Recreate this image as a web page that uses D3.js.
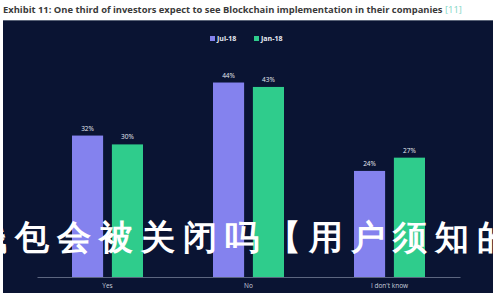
<html>
<head>
<meta charset="utf-8">
<script src="https://cdn.jsdelivr.net/npm/d3@7"></script>
<style>
  body { margin: 0; background: #fff; }
  text { font-family: "Open Sans", "Noto Sans", sans-serif; }
</style>
</head>
<body>
<svg width="500" height="300"></svg>
<script>
// chart data
var categories = ['Yes', 'No', "I don't know"]
var seriesNames = ['Jul-18', 'Jan-18']
var jul18 = [32, 44, 24]
var jan18 = [30, 43, 27]
var seriesColors = ['#8482ee', '#2fcc8c']

var svg = d3.select('svg')

// title
var title = svg.append('text')
    .attr('x', 3)
    .attr('y', 13)
    .attr('font-size', 9.4)
    .attr('font-weight', 'bold')
    .attr('fill', '#3a3a3a')
title.append('tspan').text('Exhibit 11: One third of investors expect to see Blockchain implementation in their companies ')
title.append('tspan').attr('fill', '#7fd6c6').attr('font-weight', 'normal').text('[11]')

// dark panel
svg.append('rect')
    .attr('x', 3).attr('y', 20)
    .attr('width', 490).attr('height', 273)
    .attr('fill', '#0a1433')
svg.append('line')
    .attr('x1', 3).attr('x2', 493).attr('y1', 20.5).attr('y2', 20.5)
    .attr('stroke', '#5a6478').attr('stroke-width', 1)

var x0 = d3.scaleBand().domain(categories).range([37, 460])
var x1 = d3.scaleBand().domain(seriesNames).range([35, 106]).paddingInner(0.22)
var y = d3.scaleLinear().domain([0, 50]).range([277, 56])
var color = d3.scaleOrdinal().domain(seriesNames).range(seriesColors)

var rows = categories.map(function(c, i){
    return {cat: c, vals: [{s: 'Jul-18', v: jul18[i]}, {s: 'Jan-18', v: jan18[i]}]}
})

var groups = svg.selectAll('g.grp')
    .data(rows)
    .enter()
    .append('g')
    .attr('class', 'grp')
    .attr('transform', function(d){ return 'translate(' + x0(d.cat) + ',0)' })

groups.selectAll('rect')
    .data(function(d){ return d.vals })
    .enter()
    .append('rect')
    .attr('x', function(d){ return x1(d.s) })
    .attr('width', x1.bandwidth())
    .attr('y', function(d){ return y(d.v) })
    .attr('height', function(d){ return y(0) - y(d.v) })
    .attr('fill', function(d){ return color(d.s) })

groups.selectAll('text.val')
    .data(function(d){ return d.vals })
    .enter()
    .append('text')
    .attr('class', 'val')
    .attr('x', function(d){ return x1(d.s) + x1.bandwidth() / 2 })
    .attr('y', function(d){ return y(d.v) - 5 })
    .attr('text-anchor', 'middle')
    .attr('font-size', 6.5)
    .attr('fill', '#e8ecf4')
    .text(function(d){ return d.v + '%' })

// x axis
var xAxis = svg.append('g')
    .attr('transform', 'translate(0,' + y(0) + ')')
    .call(d3.axisBottom(x0).tickSize(0).tickPadding(6))
xAxis.select('.domain').attr('stroke', '#5c6680')
xAxis.selectAll('text')
    .attr('font-size', 6.5)
    .attr('fill', '#c9cfdc')
    .attr('font-family', '"Open Sans", sans-serif')

// legend
var legend = svg.append('g')
    .selectAll('g')
    .data(seriesNames)
    .enter()
    .append('g')
    .attr('transform', function(d, i){ return 'translate(' + (210 + i * 44) + ',39)' })
legend.append('rect')
    .attr('x', 0).attr('y', -3)
    .attr('width', 5).attr('height', 5)
    .attr('fill', function(d){ return color(d) })
legend.append('text')
    .attr('x', 7).attr('y', 2)
    .attr('font-size', 7)
    .attr('font-weight', 'bold')
    .attr('fill', '#e8ecf4')
    .text(function(d){ return d })

// watermark (runs off both edges like the original)
svg.append('text')
    .attr('x', -27)
    .attr('y', 249)
    .attr('font-size', 34)
    .attr('font-weight', 'bold')
    .attr('letter-spacing', 8)
    .attr('fill', '#ffffff')
    .attr('font-family', '"Noto Sans CJK SC", sans-serif')
    .text('钱包会被关闭吗【用户须知的风险】')
</script>
</body>
</html>
